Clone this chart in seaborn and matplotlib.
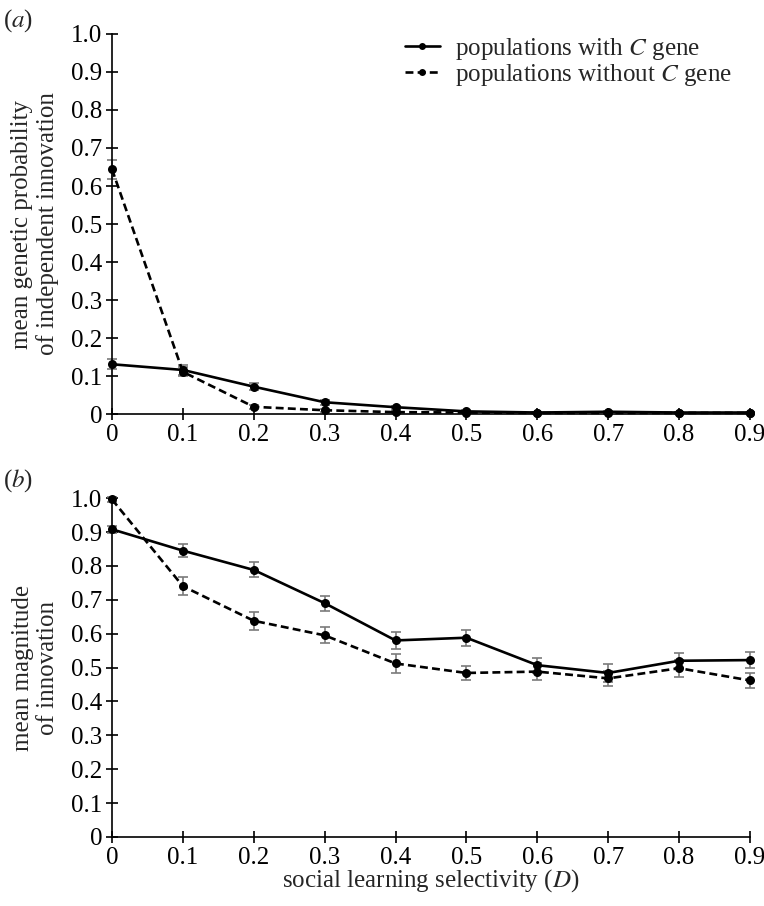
import numpy as np
import pandas as pd
import matplotlib
matplotlib.use("Agg")
import matplotlib.pyplot as plt
import seaborn as sns

# social learning selectivity D
d_values = [0.0, 0.1, 0.2, 0.3, 0.4, 0.5, 0.6, 0.7, 0.8, 0.9]

# panel (a): mean genetic probability of independent innovation
prob_with = [0.131, 0.116, 0.072, 0.031, 0.018, 0.007, 0.004, 0.006, 0.004, 0.004]
prob_with_err = [0.013, 0.012, 0.010, 0.006, 0.004, 0.003, 0.002, 0.003, 0.002, 0.002]
prob_without = [0.644, 0.111, 0.019, 0.010, 0.005, 0.004, 0.003, 0.003, 0.003, 0.003]
prob_without_err = [0.025, 0.012, 0.005, 0.004, 0.002, 0.002, 0.002, 0.002, 0.002, 0.002]

# panel (b): mean magnitude of innovation
mag_with = [0.908, 0.845, 0.788, 0.690, 0.580, 0.588, 0.507, 0.484, 0.520, 0.522]
mag_with_err = [0.010, 0.020, 0.022, 0.022, 0.026, 0.024, 0.022, 0.026, 0.022, 0.024]
mag_without = [0.996, 0.740, 0.638, 0.595, 0.512, 0.484, 0.488, 0.468, 0.498, 0.462]
mag_without_err = [0.006, 0.027, 0.026, 0.024, 0.027, 0.022, 0.024, 0.022, 0.025, 0.022]

series_names = ["populations with $\\it{C}$ gene", "populations without $\\it{C}$ gene"]
y_ticks = [0, 0.1, 0.2, 0.3, 0.4, 0.5, 0.6, 0.7, 0.8, 0.9, 1.0]
y_tick_labels = ["0", "0.1", "0.2", "0.3", "0.4", "0.5", "0.6", "0.7", "0.8", "0.9", "1.0"]
x_tick_labels = ["0", "0.1", "0.2", "0.3", "0.4", "0.5", "0.6", "0.7", "0.8", "0.9"]

sns.set_style("white")
plt.rcParams["font.family"] = ["Liberation Serif", "DejaVu Serif"]
plt.rcParams["mathtext.fontset"] = "stix"

FS = 18


def long_frame(with_vals, without_vals):
    return pd.DataFrame({
        "D": d_values * 2,
        "value": with_vals + without_vals,
        "series": [series_names[0]] * len(d_values) + [series_names[1]] * len(d_values),
    })


def draw_panel(ax, with_vals, with_err, without_vals, without_err, legend):
    df = long_frame(with_vals, without_vals)
    # grey error bars first, lines on top
    for vals, errs in [(with_vals, with_err), (without_vals, without_err)]:
        ax.errorbar(d_values, vals, yerr=errs, fmt="none", ecolor="#7a7a7a",
                    elinewidth=1.2, capsize=3.8, capthick=1.2, clip_on=False, zorder=2)
    sns.lineplot(data=df, x="D", y="value", style="series", ax=ax,
                 markers={series_names[0]: "o", series_names[1]: "o"},
                 dashes={series_names[0]: "", series_names[1]: (3, 1.6)},
                 color="black", linewidth=1.9, markersize=6.5, markeredgewidth=0,
                 legend=legend, clip_on=False, zorder=3)
    ax.set_xlim(0, 0.9)
    ax.set_ylim(0, 1.0)
    ax.set_xticks(d_values)
    ax.set_xticklabels(x_tick_labels)
    ax.set_yticks(y_ticks)
    ax.set_yticklabels(y_tick_labels)
    sns.despine(ax=ax)
    for side in ["left", "bottom"]:
        ax.spines[side].set_color("black")
        ax.spines[side].set_linewidth(1.2)
    ax.tick_params(bottom=True, left=True, direction="inout", length=8, width=1.2,
                   colors="black", labelsize=FS, pad=3)
    ax.set_xlabel("")


fig = plt.figure(figsize=(7.64, 9.06), dpi=100)
ax_a = fig.add_axes([0.1466, 0.543, 0.835, 0.4195])
ax_b = fig.add_axes([0.1466, 0.0762, 0.835, 0.374])

draw_panel(ax_a, prob_with, prob_with_err, prob_without, prob_without_err, legend=True)
draw_panel(ax_b, mag_with, mag_with_err, mag_without, mag_without_err, legend=False)

ax_a.set_ylabel("mean genetic probability\nof independent innovation", fontsize=FS,
                labelpad=9, linespacing=1.15)
ax_b.set_ylabel("mean magnitude\nof innovation", fontsize=FS, labelpad=9, linespacing=1.15)
ax_b.set_xlabel("social learning selectivity ($\\it{D}$)", fontsize=FS, labelpad=-1)

leg = ax_a.legend(loc="upper right", bbox_to_anchor=(0.995, 1.035), frameon=False,
                  fontsize=FS, handlelength=1.4, handletextpad=0.6, labelspacing=0.02,
                  borderaxespad=0.2)
for h in leg.legend_handles:
    h.set_markersize(5)

fig.text(0.004, 0.977, "($\\it{a}$)", fontsize=FS, ha="left", va="center")
fig.text(0.004, 0.47, "($\\it{b}$)", fontsize=FS, ha="left", va="center")

fig.savefig("out.png", dpi=100)
